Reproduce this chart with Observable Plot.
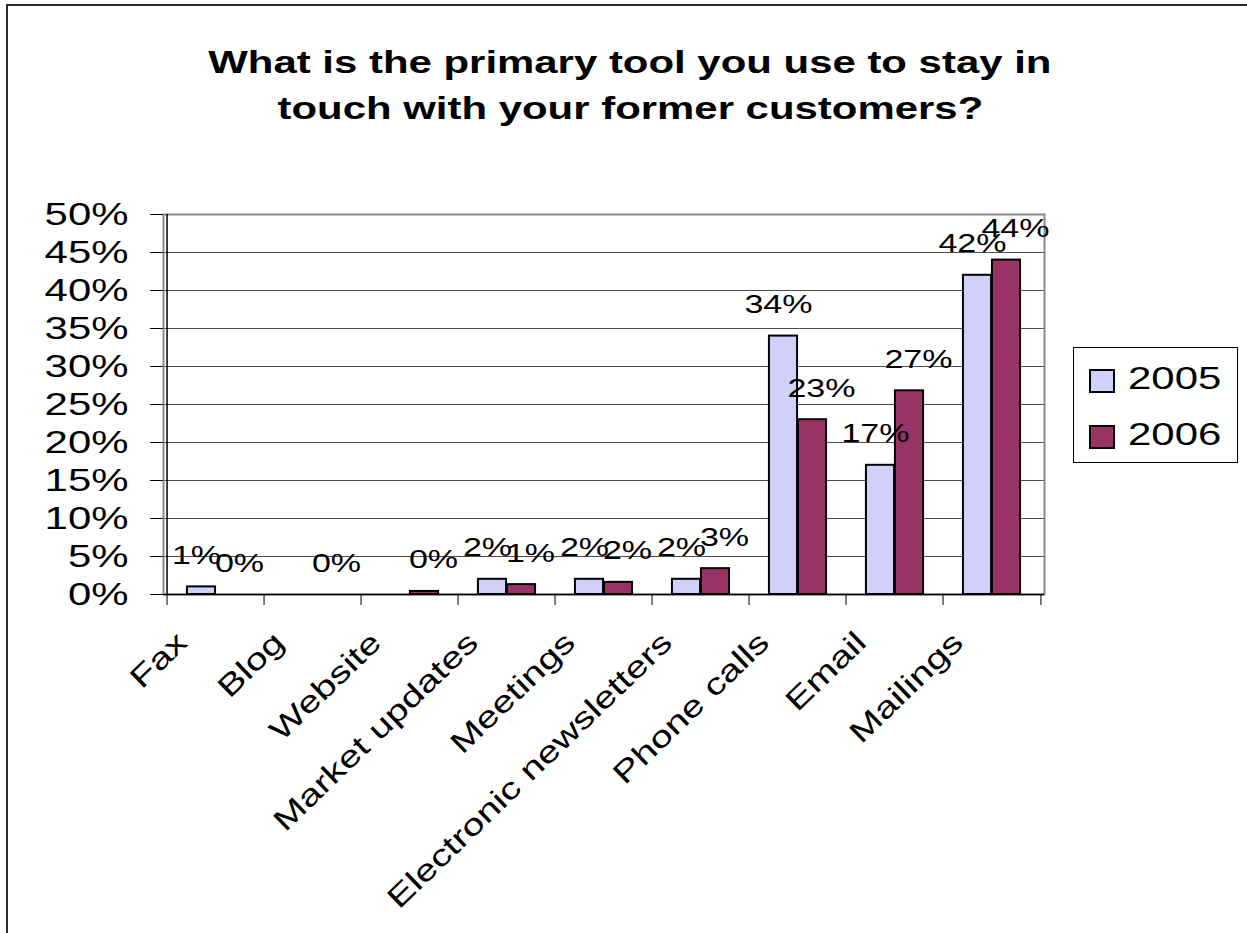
<!DOCTYPE html>
<html>
<head>
<meta charset="utf-8">
<script src="https://cdn.jsdelivr.net/npm/d3@7"></script>
<script src="https://cdn.jsdelivr.net/npm/@observablehq/plot@0.6"></script>
<style>
  html, body { margin: 0; padding: 0; background: #fff; }
  body { font-family: "Liberation Sans", Arial, sans-serif; }
  #wrap { position: relative; width: 1247px; height: 933px; overflow: hidden; }
  #border { position: absolute; left: 6px; top: 4px; width: 1300px; height: 1000px;
            border-left: 2px solid #2a2a2a; border-top: 2px solid #2a2a2a; }
  #title { position: absolute; left: 0; top: 0; width: 1260px; text-align: center;
           font-weight: bold; font-size: 32px; color: #000; }
  #title div { position: absolute; left: 0; width: 1260px; text-align: center; }
  #title span { display: inline-block; transform: scaleX(1.31); transform-origin: center; white-space: nowrap; }
  #chart { position: absolute; left: 0; top: 0; }
  #legend { position: absolute; left: 1073px; top: 347px; width: 165px; height: 116px;
            border: 1.5px solid #000; box-sizing: border-box; background: #fff; }
  .item { position: absolute; left: 15px; height: 30px; }
  .item svg { position: absolute; left: 0; top: 4px; }
  .item span { position: absolute; left: 39px; top: -4px; font-size: 32px; line-height: 34px;
               display: inline-block; transform: scaleX(1.31); transform-origin: left center; white-space: nowrap; }
</style>
</head>
<body>
<div id="wrap">
  <div id="border"></div>
  <div id="title"></div>
  <div id="chart"></div>
  <div id="legend"></div>
</div>
<script>
// ---- data ----
const titleLines = ["What is the primary tool you use to stay in", "touch with your former customers?"];
const categories = ["Fax", "Blog", "Website", "Market updates", "Meetings", "Electronic newsletters", "Phone calls", "Email", "Mailings"];
const years = ["2005", "2006"];
const values2005 = [0.01, null, null, 0.02, 0.02, 0.02, 0.34, 0.17, 0.42];
const values2006 = [0.0, 0.0, 0.004, 0.013, 0.016, 0.034, 0.23, 0.268, 0.44];
const yTicks = [0, 0.05, 0.10, 0.15, 0.20, 0.25, 0.30, 0.35, 0.40, 0.45, 0.50];
const yearFills = ["#d0d0fb", "#993366"];

// ---- build ----
const rows2005 = categories.map((c, i) => ({category: c, year: years[0], value: values2005[i]})).filter(d => d.value != null);
const rows2006 = categories.map((c, i) => ({category: c, year: years[1], value: values2006[i]})).filter(d => d.value != null);

const W = 1247, H = 933;
const mL = 163, mR = 203, mT = 214, mB = 339;
const bw = (W - mL - mR) / categories.length;
const barW = 29;
const pct = d3.format(".0%");
const FONT = "Liberation Sans, Arial, sans-serif";

const chart = Plot.plot({
  width: W, height: H,
  marginLeft: mL, marginRight: mR, marginTop: mT, marginBottom: mB,
  style: {fontFamily: FONT, color: "#000", background: "transparent", overflow: "visible"},
  x: {type: "band", domain: categories, padding: 0},
  y: {domain: [0, 0.5]},
  marks: [
    Plot.gridY(yTicks, {stroke: "#000", strokeOpacity: 0.7, strokeWidth: 1.2}),
    Plot.frame({stroke: "#8a8a8a", strokeWidth: 2}),
    Plot.axisY({ticks: yTicks, tickFormat: pct, tickSize: 13, tickPadding: 22, fontSize: 32, label: null, stroke: "#000"}),
    Plot.axisX({ticks: categories, tickSize: 11, tickFormat: () => "", dx: -bw / 2, label: null, stroke: "#000"}),
    Plot.axisX({ticks: categories.slice(-1), tickSize: 11, tickFormat: () => "", dx: bw / 2, label: null, stroke: "#000"}),
    Plot.barY(rows2005, {x: "category", y: "value", fill: yearFills[0], stroke: "#000", strokeWidth: 2,
      insetLeft: bw / 2 - barW, insetRight: bw / 2}),
    Plot.barY(rows2006, {x: "category", y: "value", fill: yearFills[1], stroke: "#000", strokeWidth: 2,
      insetLeft: bw / 2, insetRight: bw / 2 - barW}),
    Plot.ruleY([0], {stroke: "#000", strokeWidth: 1.5}),
    Plot.ruleX(categories.slice(0, 1), {dx: -bw / 2, stroke: "#000", strokeWidth: 1.5}),
    Plot.text(rows2005, {x: "category", y: "value", text: d => pct(d.value), dx: -barW / 2 - 5, dy: -23,
      lineAnchor: "bottom", fontSize: 26, fill: "#000"}),
    Plot.text(rows2006, {x: "category", y: "value", text: d => pct(d.value), dx: barW / 2 + 9, dy: -23,
      lineAnchor: "bottom", fontSize: 26, fill: "#000"}),
    Plot.text(categories, {x: d => d, frameAnchor: "bottom", rotate: -44, textAnchor: "end", lineAnchor: "bottom",
      dx: -27, dy: 50, fontSize: 30, fill: "#000"})
  ]
});
document.getElementById("chart").appendChild(chart);

// horizontal stretch of glyphs along each baseline, as in the reference
const K = 1.31;
chart.querySelectorAll("text").forEach(t => {
  const L = t.getComputedTextLength();
  if (L > 0) {
    t.setAttribute("textLength", L * K);
    t.setAttribute("lengthAdjust", "spacingAndGlyphs");
  }
});

// title
const title = document.getElementById("title");
const titleTops = [44, 90];
titleLines.forEach((s, i) => {
  const div = document.createElement("div");
  div.style.top = titleTops[i] + "px";
  const span = document.createElement("span");
  span.textContent = s;
  div.appendChild(span);
  title.appendChild(div);
});

// legend
const legend = document.getElementById("legend");
const itemTops = [17, 73];
years.forEach((y, i) => {
  const item = document.createElement("div");
  item.className = "item";
  item.style.top = itemTops[i] + "px";
  item.innerHTML = `<svg width="26" height="24"><rect x="1" y="1" width="24" height="22" fill="${yearFills[i]}" stroke="#000" stroke-width="2"></rect></svg><span>${y}</span>`;
  legend.appendChild(item);
});
</script>
</body>
</html>
